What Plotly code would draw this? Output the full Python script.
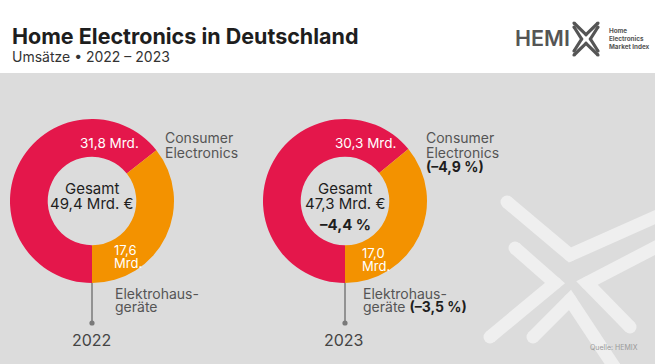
import plotly.graph_objects as go

# ---------------- data ----------------
years = ["2022", "2023"]
segment_names = ["Consumer Electronics", "Elektrohausgeräte"]
consumer_electronics = [31.8, 30.3]      # Mrd. €
elektrohausgeraete = [17.6, 17.0]        # Mrd. €
totals = [49.4, 47.3]                    # Mrd. €
total_change = ["", "–4,4 %"]
ce_change = ["", "–4,9 %"]
eh_change = ["", "–3,5 %"]

# ---------------- style ----------------
W, H = 655, 364
RED = "#e4174b"
ORANGE = "#f39200"
PANEL = "#dcdcdc"
MARK = "#efefef"
FONT = "Inter"
DARK = "#1e1e1e"
GREY = "#555555"


def de(v):
    return f"{v:.1f}".replace(".", ",")


fig = go.Figure()

# panel background
fig.add_shape(type="rect", xref="x", yref="y", x0=0, x1=W, y0=73, y1=H,
              fillcolor=PANEL, line_width=0, layer="below")


# decorative X (watermark + logo) built from four chevrons
def chevrons(cx, cy, s, rel):
    out = []
    for c in rel:
        out.append(([cx + s * p[0] for p in c], [cy + s * p[1] for p in c]))
    return out


WATERMARK = [
    [(-63, -81), (0, -28), (90, -68)],
    [(-55, -35), (-15, 0), (-80, 54)],
    [(90, -38), (17, 0), (60, 44)],
    [(-37, 54), (0, 17), (45, 85)],
]
LOGO = [
    [(-60, -80), (0, -22), (60, -80)],
    [(-60, -60), (-22, 0), (-60, 60)],
    [(60, -60), (22, 0), (60, 60)],
    [(-60, 80), (0, 22), (60, 80)],
]

for xs, ys in chevrons(570, 283, 1.0, WATERMARK):
    fig.add_trace(go.Scatter(x=xs, y=ys, mode="lines+markers",
                             line=dict(color=MARK, width=13),
                             marker=dict(color=MARK, size=13),
                             hoverinfo="skip", showlegend=False))
for xs, ys in chevrons(586, 39, 0.2, LOGO):
    fig.add_trace(go.Scatter(x=xs, y=ys, mode="lines+markers",
                             line=dict(color=GREY, width=3.2),
                             marker=dict(color=GREY, size=3.2),
                             hoverinfo="skip", showlegend=False))

# donuts
centers_x = [92, 345]
CY, R = 201, 82
for i, yr in enumerate(years):
    cx = centers_x[i]
    fig.add_trace(go.Pie(
        values=[consumer_electronics[i], elektrohausgeraete[i]],
        labels=segment_names,
        marker=dict(colors=[RED, ORANGE], line=dict(width=0)),
        hole=0.54, rotation=180, direction="clockwise", sort=False,
        textinfo="none", hoverinfo="skip", showlegend=False,
        domain=dict(x=[(cx - R) / W, (cx + R) / W],
                    y=[(H - CY - R) / H, (H - CY + R) / H]),
    ))

ann = []


def txt(x, y, s, size, color, xanchor="center", bold=False, weight=None):
    if bold:
        s = f"<b>{s}</b>"
    f = dict(family=FONT, size=size, color=color)
    if weight:
        f["weight"] = weight
    ann.append(dict(x=x, y=y, xref="x", yref="y", text=s, showarrow=False,
                    xanchor=xanchor, yanchor="middle", font=f))


for i, yr in enumerate(years):
    cx = centers_x[i]
    txt(cx + 17 if i == 0 else cx + 20, 143, f"{de(consumer_electronics[i])} Mrd.", 13.5, "white")
    txt(cx, 188, "Gesamt", 15, DARK)
    txt(cx, 203, f"{de(totals[i])} Mrd. €", 15, DARK)
    if total_change[i]:
        txt(cx, 224, total_change[i], 15, DARK, bold=True)
    dy = 0 if i == 0 else 3
    txt(cx + 20 - i * 5, 250 + dy, de(elektrohausgeraete[i]), 13, "white", "left")
    txt(cx + 20 - i * 5, 263 + dy, "Mrd.", 13, "white", "left")
    lx = cx + 71 + i * 8
    txt(lx, 137, "Consumer", 14, GREY, "left")
    txt(lx, 152, "Electronics", 14, GREY, "left")
    if ce_change[i]:
        txt(lx, 166, f"({ce_change[i]})", 14, DARK, "left", bold=True)
    ex = cx + 21 - i * 5
    txt(ex, 293, "Elektrohaus-", 14, GREY, "left")
    g = "geräte" + (f" <b style='color:{DARK}'>({eh_change[i]})</b>" if eh_change[i] else "")
    txt(ex, 306, g, 14, GREY, "left")
    fig.add_shape(type="line", xref="x", yref="y", x0=cx, x1=cx, y0=CY + R, y1=323,
                  line=dict(color="#7a7a7a", width=1.5))
    fig.add_shape(type="circle", xref="x", yref="y", x0=cx - 2.6, x1=cx + 2.6,
                  y0=323 - 2.6, y1=323 + 2.6, fillcolor="#7a7a7a", line_width=0)
    txt(cx - 1, 340, yr, 16, "#444444")

# header
txt(10, 36, "Home Electronics in Deutschland", 21.5, DARK, "left", bold=True)
txt(10, 56, "Umsätze • 2022 – 2023", 14, "#333333", "left")
txt(513, 38, "HEMI", 21.5, GREY, "left", weight=600)
txt(607, 31, "<b>Home</b>", 6.3, GREY, "left")
txt(607, 39, "<b>Electronics</b>", 6.3, GREY, "left")
txt(607, 47, "<b>Market Index</b>", 6.3, GREY, "left")
txt(640, 347, "Quelle: HEMIX", 7, "#9a9a9a", "right")

fig.update_layout(
    width=W, height=H, margin=dict(l=0, r=0, t=0, b=0),
    paper_bgcolor="white", plot_bgcolor="rgba(0,0,0,0)",
    xaxis=dict(range=[0, W], visible=False, fixedrange=True),
    yaxis=dict(range=[H, 0], visible=False, fixedrange=True),
    annotations=ann, showlegend=False,
)

fig.write_html("out.html", config={"displayModeBar": False},
               post_script="document.body.style.margin='0';")
